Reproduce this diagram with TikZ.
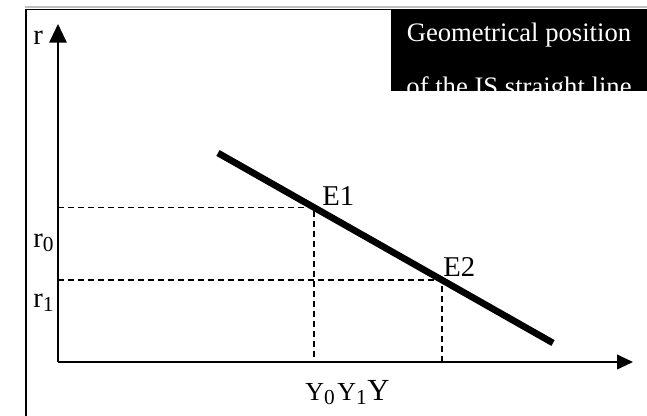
\documentclass[tikz,border=0pt]{standalone}
\usepackage{fontspec}
\setmainfont{Liberation Serif}
\usetikzlibrary{arrows.meta}
\newcommand{\fsz}[1]{\fontsize{#1}{#1}\selectfont}
\newcommand{\lowsub}[1]{\raisebox{-2.4pt}{\fsz{16}#1}}
\begin{document}
\begin{tikzpicture}[x=0.75pt,y=-0.75pt,
  lbl/.style={inner sep=0pt,anchor=base west},
  axis/.style={line width=1.5pt},
  guide/.style={line width=1.3pt,dash pattern=on 4.5pt off 3pt},
  isline/.style={line width=5pt},
  frameline/.style={line width=1.3pt}]
\useasboundingbox (0,0) rectangle (647,416);
% frame
\draw[gray!50,line width=0.8pt] (25,7) -- (647,7);
\draw[frameline] (26,416) -- (26,9.5) -- (647,9.5);
% title box
\fill[black] (391,9) rectangle (647,91);
\begin{scope}
\clip (391,9) rectangle (647,91);
\node[inner sep=0pt,anchor=base,text=white,font=\fsz{20}] (t1) at (519,42) {Geometrical position};
\node[inner sep=0pt,anchor=base,text=white,font=\fsz{20}] (t2) at (519,96) {of the IS straight line};
\end{scope}
% coordinates
\coordinate (O) at (58,362);
\coordinate (Ytip) at (58,24);
\coordinate (Xtip) at (633,362);
\coordinate (A) at (218,153);
\coordinate (B) at (553,343);
\coordinate (P1) at (314,207.5);
\coordinate (P2) at (442,280);
\coordinate (R0) at (58,207.5);
\coordinate (R1) at (58,280);
\coordinate (X0) at (314,362);
\coordinate (X1) at (442,362);
% dashed guides
\draw[guide] (R0) -- (P1) -- (X0);
\draw[guide] (R1) -- (P2) -- (X1);
% axes
\draw[axis,-{Triangle[length=14pt,width=13pt]}] (O) -- (Ytip);
\draw[axis,-{Triangle[length=12pt,width=11pt]}] (O) -- (Xtip);
% IS line
\draw[isline] (A) -- (B);
% labels
\node[lbl,font=\fsz{21.5}] (rl) at (33,45) {r};
\node[lbl,font=\fsz{21.5}] (r0) at (33,248) {r\lowsub{0}};
\node[lbl,font=\fsz{21.5}] (r1) at (33,308) {r\lowsub{1}};
\node[lbl,font=\fsz{21.5}] (e1) at (322,206) {E1};
\node[lbl,font=\fsz{21.5}] (e2) at (443,277) {E2};
\node[lbl,font=\fsz{19.5}] (y0) at (305,401) {Y\lowsub{0}};
\node[lbl,font=\fsz{19.5}] (y1) at (337,401) {Y\lowsub{1}};
\node[lbl,font=\fsz{23}] (yy) at (367,401) {Y};
\end{tikzpicture}
\end{document}
